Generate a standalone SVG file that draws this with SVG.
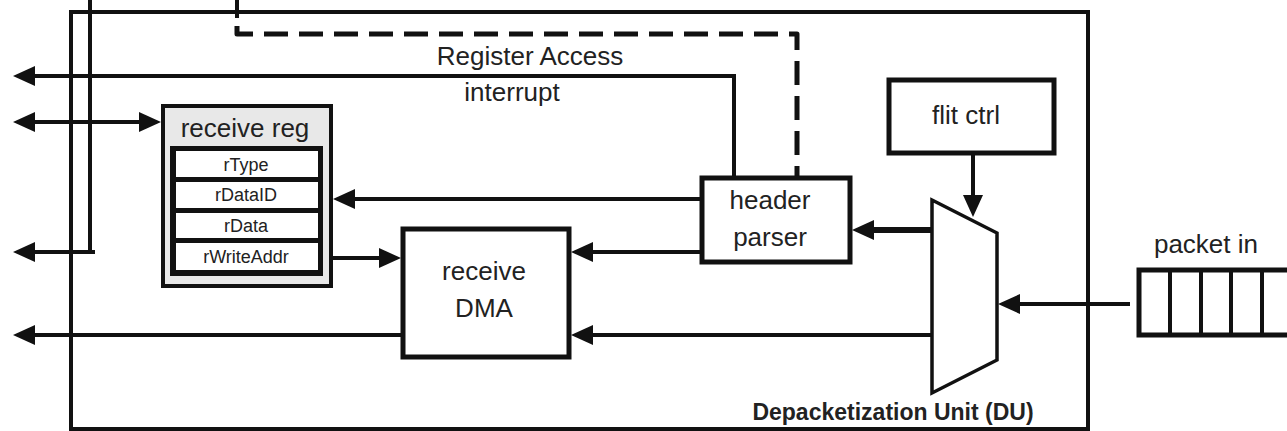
<svg xmlns="http://www.w3.org/2000/svg" width="1287" height="431" viewBox="0 0 1287 431">
  <style>
    .ln { stroke: #111; stroke-width: 4; fill: none; }
    .thick { stroke: #111; stroke-width: 6; fill: none; }
    .dash { stroke: #111; stroke-width: 5; fill: none; stroke-dasharray: 24 11; stroke-linejoin: round; }
    .box { fill: #fff; stroke: #111; stroke-width: 5; }
    .t { font-family: "Liberation Sans", Arial, sans-serif; fill: #222; text-anchor: middle; }
    .big { font-size: 26px; }
    .sm { font-size: 18px; }
    .bold { font-size: 23px; font-weight: bold; }
  </style>
  <defs>
    <marker id="ah" markerUnits="userSpaceOnUse" markerWidth="22" markerHeight="20" refX="15" refY="10" orient="auto-start-reverse" viewBox="0 0 22 20">
      <path d="M0,0 L22,10 L0,20 z" fill="#111"/>
    </marker>
  </defs>
  <rect width="1287" height="431" fill="#fff"/>

  <g id="outer-du">
    <rect x="71" y="12" width="1017" height="417" fill="none" stroke="#111" stroke-width="4"/>
    <text class="t bold" x="893" y="420">Depacketization Unit (DU)</text>
  </g>

  <g id="connectors">
    <path class="ln" d="M90,0 V252 H95"/>
    <line class="ln" x1="92" y1="252" x2="20" y2="252" marker-end="url(#ah)"/>
    <path class="ln" d="M237,0 V18"/>
    <path class="dash" d="M237,26 V34 H797 V178"/>
    <path class="ln" d="M734,178 V76 H20" marker-end="url(#ah)"/>
    <line class="ln" x1="20" y1="122" x2="154" y2="122" marker-start="url(#ah)" marker-end="url(#ah)"/>
    <line class="ln" x1="702" y1="199" x2="340" y2="199" marker-end="url(#ah)"/>
    <line class="ln" x1="702" y1="252" x2="578" y2="252" marker-end="url(#ah)"/>
    <line class="ln" x1="323" y1="258" x2="394" y2="258" marker-end="url(#ah)"/>
    <line class="thick" x1="932" y1="230" x2="859" y2="230" marker-end="url(#ah)"/>
    <line class="ln" x1="932" y1="335" x2="578" y2="335" marker-end="url(#ah)"/>
    <line class="ln" x1="403" y1="335" x2="20" y2="335" marker-end="url(#ah)"/>
    <line class="ln" x1="973" y1="153" x2="973" y2="210" marker-end="url(#ah)"/>
    <line class="ln" x1="1130" y1="304" x2="1005" y2="304" marker-end="url(#ah)"/>
  </g>

  <g id="receive-reg">
    <rect x="163" y="106" width="168" height="180" fill="#e8e8e8" stroke="#111" stroke-width="4"/>
    <text class="t big" x="245" y="137">receive reg</text>
    <rect x="170" y="146" width="153" height="130" fill="#111"/>
    <g id="rType">
      <rect x="176" y="151" width="142" height="26" fill="#fff"/>
      <text class="t sm" x="246" y="171">rType</text>
    </g>
    <g id="rDataID">
      <rect x="176" y="182" width="142" height="26" fill="#fff"/>
      <text class="t sm" x="246" y="201">rDataID</text>
    </g>
    <g id="rData">
      <rect x="176" y="213" width="142" height="25" fill="#fff"/>
      <text class="t sm" x="246" y="232">rData</text>
    </g>
    <g id="rWriteAddr">
      <rect x="176" y="243" width="142" height="27" fill="#fff"/>
      <text class="t sm" x="246" y="263">rWriteAddr</text>
    </g>
  </g>

  <g id="receive-dma">
    <rect class="box" x="403" y="229" width="166" height="128"/>
    <text class="t big" x="484" y="280">receive</text>
    <text class="t big" x="484" y="317">DMA</text>
  </g>

  <g id="header-parser">
    <rect class="box" x="702" y="178" width="148" height="84"/>
    <text class="t big" x="770" y="209">header</text>
    <text class="t big" x="770" y="246">parser</text>
  </g>

  <g id="flit-ctrl">
    <rect class="box" x="889" y="80" width="165" height="73"/>
    <text class="t big" x="966" y="124">flit ctrl</text>
  </g>

  <g id="mux">
    <polygon points="932,200 997,233 997,360 932,393" fill="#fff" stroke="#111" stroke-width="3.5"/>
  </g>

  <g id="packet-in">
    <text class="t big" x="1206" y="253">packet in</text>
    <path d="M1290,270 H1139 V335 H1290" fill="#fff" stroke="#111" stroke-width="5"/>
    <path d="M1170,270 V335 M1201,270 V335 M1231,270 V335 M1262,270 V335" stroke="#111" stroke-width="4" fill="none"/>
  </g>

  <g id="labels">
    <text class="t big" x="530" y="65">Register Access</text>
    <text class="t big" x="512" y="101">interrupt</text>
  </g>
</svg>
